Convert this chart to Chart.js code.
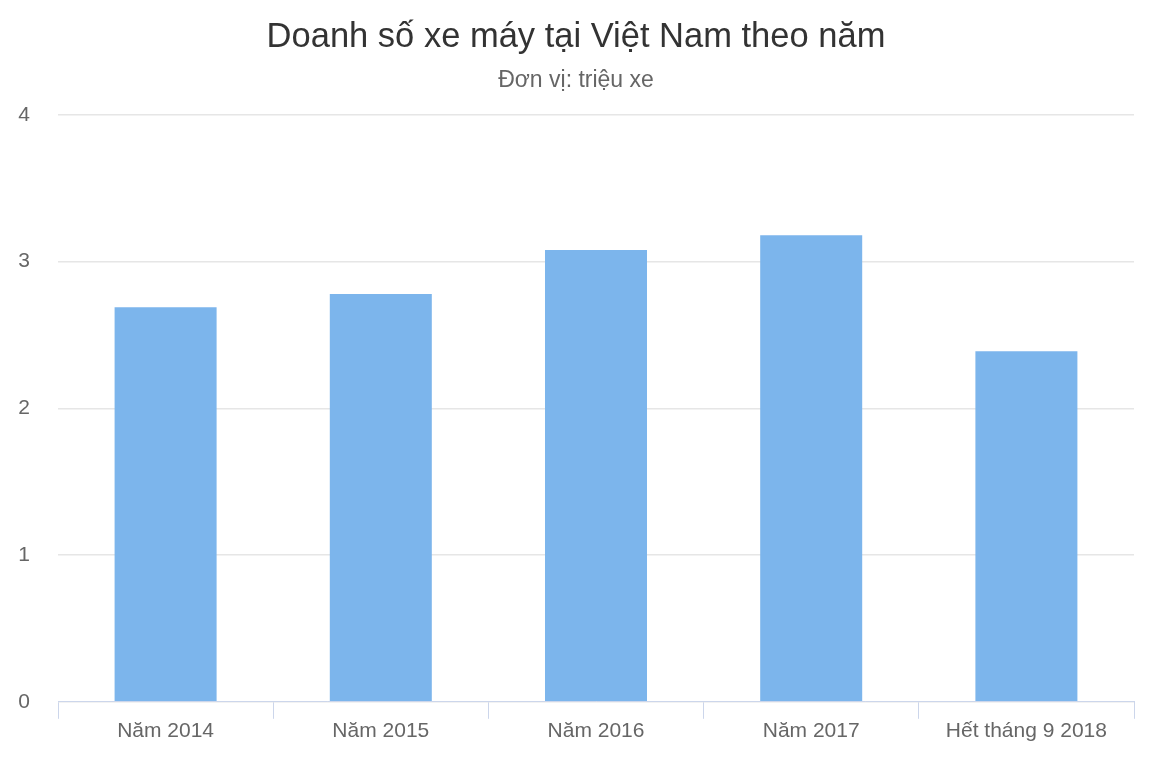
<!DOCTYPE html>
<html>
<head>
<meta charset="utf-8">
<script src="https://cdn.jsdelivr.net/npm/chart.js@4"></script>
<style>
html,body{margin:0;padding:0;background:#fff;}
#wrap{width:1152px;height:768px;position:relative;}
</style>
</head>
<body>
<div id="wrap"><canvas id="c"></canvas></div>
<script>
const categories = ["Năm 2014", "Năm 2015", "Năm 2016", "Năm 2017", "Hết tháng 9 2018"];
const sales = [2.69, 2.78, 3.08, 3.18, 2.39];
const yTicks = [0, 1, 2, 3, 4];
const titleText = "Doanh số xe máy tại Việt Nam theo năm";
const subtitleText = "Đơn vị: triệu xe";

const FONT = "'Liberation Sans', Arial, sans-serif";

new Chart(document.getElementById('c'), {
  type: 'bar',
  data: {
    labels: categories,
    datasets: [{
      data: sales,
      backgroundColor: '#7cb5ec',
      borderWidth: 0,
      categoryPercentage: 1,
      barPercentage: 0.474
    }]
  },
  options: {
    responsive: true,
    maintainAspectRatio: false,
    animation: false,
    layout: { padding: { left: 9, right: 9, top: 0, bottom: 24 } },
    plugins: {
      legend: { display: false },
      tooltip: { enabled: false },
      title: {
        display: true,
        text: titleText,
        color: '#333333',
        font: { family: FONT, size: 34.5, weight: 'normal' },
        padding: { top: 17, bottom: 8 }
      },
      subtitle: {
        display: true,
        text: subtitleText,
        color: '#666666',
        font: { family: FONT, size: 23, weight: 'normal' },
        padding: { top: 0, bottom: 21 }
      }
    },
    scales: {
      x: {
        grid: {
          offset: true,
          drawOnChartArea: false,
          drawTicks: true,
          tickLength: 17,
          color: '#ccd6eb',
          lineWidth: 1
        },
        border: { display: true, color: '#ccd6eb', width: 1 },
        ticks: {
          color: '#666666',
          font: { family: FONT, size: 21 },
          padding: 0,
          maxRotation: 0,
          autoSkip: false
        }
      },
      y: {
        min: 0,
        max: 4,
        afterBuildTicks: (axis) => { axis.ticks = yTicks.map(v => ({ value: v })); },
        afterFit: (axis) => { axis.width = 49; },
        grid: {
          color: '#e6e6e6',
          lineWidth: 1.5,
          drawTicks: false
        },
        border: { display: false },
        ticks: {
          color: '#666666',
          font: { family: FONT, size: 21 },
          padding: 28
        }
      },
      yRight: {
        position: 'right',
        min: 0,
        max: 4,
        afterFit: (axis) => { axis.width = 9; },
        grid: { display: false, drawTicks: false },
        border: { display: false },
        ticks: { display: false }
      }
    }
  }
});
</script>
</body>
</html>
